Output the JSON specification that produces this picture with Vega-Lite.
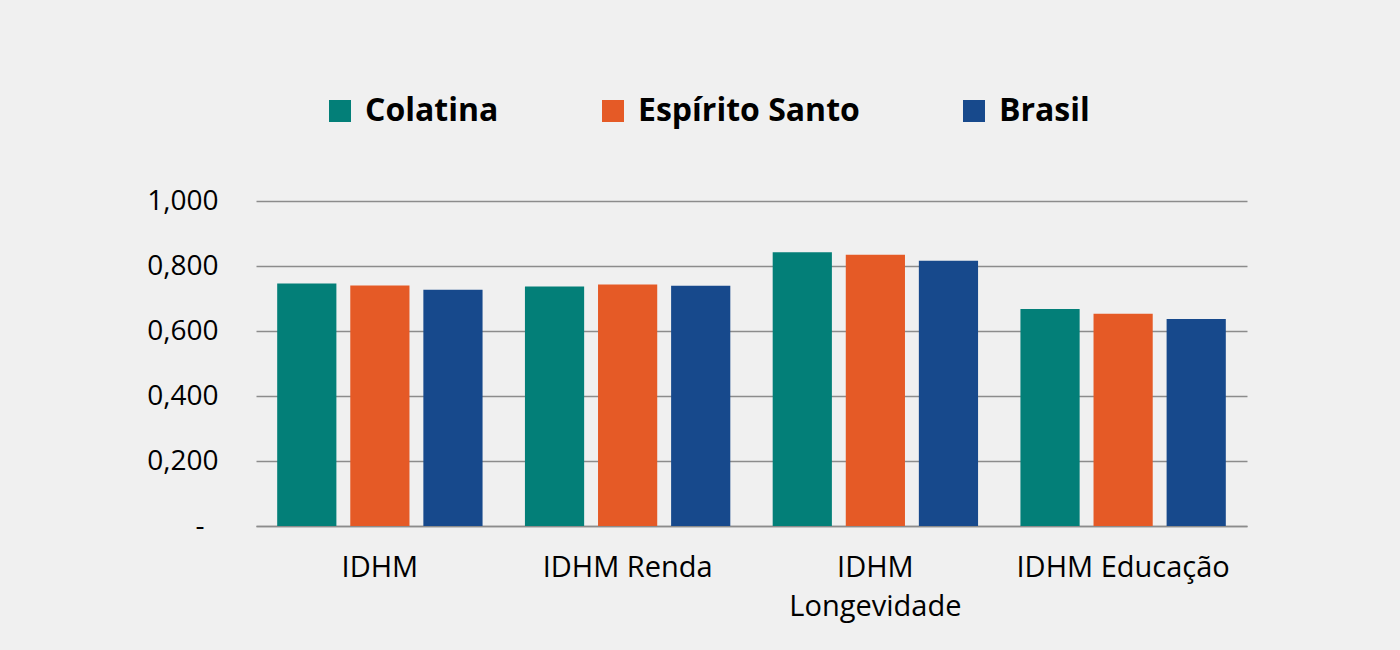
{
  "$schema": "https://vega.github.io/schema/vega-lite/v6.json",
  "width": 991,
  "height": 325,
  "autosize": {"type": "none"},
  "padding": {"left": 256, "top": 201, "right": 153, "bottom": 124},
  "background": "#f0f0f0",
  "config": {
    "view": {"stroke": null},
    "font": "Open Sans"
  },
  "data": {
    "values": [
      {"indicador": "IDHM", "local": "Colatina", "valor": 0.746},
      {"indicador": "IDHM", "local": "Espírito Santo", "valor": 0.740},
      {"indicador": "IDHM", "local": "Brasil", "valor": 0.727},
      {"indicador": "IDHM Renda", "local": "Colatina", "valor": 0.737},
      {"indicador": "IDHM Renda", "local": "Espírito Santo", "valor": 0.743},
      {"indicador": "IDHM Renda", "local": "Brasil", "valor": 0.739},
      {"indicador": "IDHM Longevidade", "local": "Colatina", "valor": 0.842},
      {"indicador": "IDHM Longevidade", "local": "Espírito Santo", "valor": 0.835},
      {"indicador": "IDHM Longevidade", "local": "Brasil", "valor": 0.816},
      {"indicador": "IDHM Educação", "local": "Colatina", "valor": 0.668},
      {"indicador": "IDHM Educação", "local": "Espírito Santo", "valor": 0.653},
      {"indicador": "IDHM Educação", "local": "Brasil", "valor": 0.637}
    ]
  },
  "mark": {"type": "bar"},
  "encoding": {
    "x": {
      "field": "indicador",
      "type": "nominal",
      "sort": ["IDHM", "IDHM Renda", "IDHM Longevidade", "IDHM Educação"],
      "scale": {"paddingInner": 0, "paddingOuter": 0},
      "axis": {
        "title": null,
        "labelAngle": 0,
        "labelFontSize": 29,
        "labelColor": "#000000",
        "labelPadding": 27,
        "labelLineHeight": 39,
        "labelLimit": 0,
        "labelExpr": "datum.label == 'IDHM Longevidade' ? ['IDHM', 'Longevidade'] : datum.label",
        "ticks": false,
        "domainColor": "#8c8c8c",
        "domainWidth": 1.5,
        "grid": false
      }
    },
    "xOffset": {
      "field": "local",
      "type": "nominal",
      "sort": ["Colatina", "Espírito Santo", "Brasil"],
      "scale": {"paddingInner": 0.19, "paddingOuter": 0.29}
    },
    "y": {
      "field": "valor",
      "type": "quantitative",
      "scale": {"domain": [0, 1]},
      "axis": {
        "title": null,
        "values": [0, 0.2, 0.4, 0.6, 0.8, 1.0],
        "labelExpr": "datum.value == 0 ? '-' : replace(format(datum.value, '.3f'), '.', ',')",
        "labelFontSize": 28,
        "labelColor": "#000000",
        "labelPadding": {"condition": {"test": "datum.value == 0", "value": 52}, "value": 38},
        "ticks": false,
        "domain": false,
        "gridColor": "#8c8c8c",
        "gridWidth": 1.5
      }
    },
    "color": {
      "field": "local",
      "type": "nominal",
      "sort": ["Colatina", "Espírito Santo", "Brasil"],
      "scale": {
        "domain": ["Colatina", "Espírito Santo", "Brasil"],
        "range": ["#037f78", "#e55a26", "#17498c"]
      },
      "legend": {
        "title": null,
        "orient": "none",
        "direction": "horizontal",
        "legendX": 68,
        "legendY": -106,
        "symbolType": "square",
        "symbolSize": 484,
        "symbolStrokeWidth": 0,
        "labelFontSize": 32,
        "labelFontWeight": "bold",
        "labelColor": "#000000",
        "labelOffset": 9,
        "labelLimit": 0,
        "columnPadding": 98
      }
    }
  }
}
